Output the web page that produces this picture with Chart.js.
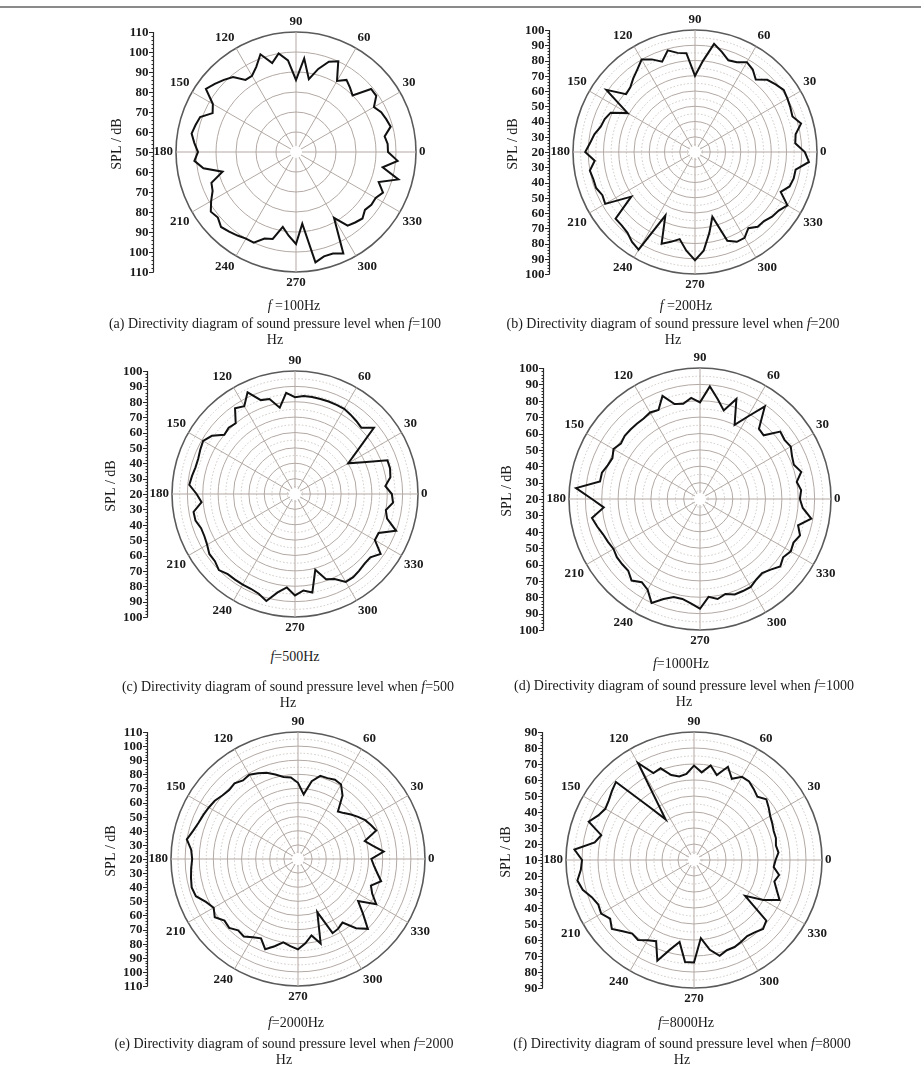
<!DOCTYPE html>
<html>
<head>
<meta charset="utf-8">
<script src="https://cdn.jsdelivr.net/npm/chart.js@4.4.1/dist/chart.umd.min.js"></script>
<style>
html,body{margin:0;padding:0;background:#fff;}
body{width:921px;height:1070px;position:relative;overflow:hidden;font-family:"Liberation Serif","Times New Roman",serif;color:#1a1a1a;}
#frame{position:absolute;left:0;top:6px;width:921px;height:0;border-top:2px solid #8a8a8a;}
canvas.pc{position:absolute;}
.freq{position:absolute;font-size:14px;line-height:16px;transform:translateX(-50%);white-space:nowrap;}
.cap{position:absolute;font-size:14px;line-height:16px;text-align:center;transform:translateX(-50%);white-space:nowrap;}
</style>
</head>
<body>
<div id="frame"></div>

<canvas class="pc" id="pa"></canvas>
<canvas class="pc" id="pb"></canvas>
<canvas class="pc" id="pc"></canvas>
<canvas class="pc" id="pd"></canvas>
<canvas class="pc" id="pe"></canvas>
<canvas class="pc" id="pf"></canvas>

<div class="freq" style="left:294px;top:298px"><i>f</i> =100Hz</div>
<div class="cap" style="left:275px;top:316px">(a) Directivity diagram of sound pressure level when <i>f</i>=100<br>Hz</div>

<div class="freq" style="left:686px;top:298px"><i>f</i> =200Hz</div>
<div class="cap" style="left:673px;top:316px">(b) Directivity diagram of sound pressure level when <i>f</i>=200<br>Hz</div>

<div class="freq" style="left:295px;top:649px"><i>f</i>=500Hz</div>
<div class="cap" style="left:288px;top:679px">(c) Directivity diagram of sound pressure level when <i>f</i>=500<br>Hz</div>

<div class="freq" style="left:681px;top:656px"><i>f</i>=1000Hz</div>
<div class="cap" style="left:684px;top:678px">(d) Directivity diagram of sound pressure level when <i>f</i>=1000<br>Hz</div>

<div class="freq" style="left:296px;top:1015px"><i>f</i>=2000Hz</div>
<div class="cap" style="left:284px;top:1036px">(e) Directivity diagram of sound pressure level when <i>f</i>=2000<br>Hz</div>

<div class="freq" style="left:686px;top:1015px"><i>f</i>=8000Hz</div>
<div class="cap" style="left:682px;top:1036px">(f) Directivity diagram of sound pressure level when <i>f</i>=8000<br>Hz</div>

<script>
// ---- data (angle in degrees, SPL in dB) ----
const angles = [0,5,10,15,20,25,30,35,40,45,50,55,60,65,70,75,80,85,90,95,100,105,110,115,120,125,130,135,140,145,150,155,160,165,170,175,180,185,190,195,200,205,210,215,220,225,230,235,240,245,250,255,260,265,270,275,280,285,290,295,300,305,310,315,320,325,330,335,340,345,350,355];
const angleTickLabels = [0,30,60,90,120,150,180,210,240,270,300,330];

const spl100 = [96,96,95,99,98,97,95,99,99,90,92,94,91,100,98,93,87,97,86,96,100,96,102,97,94,94,99,101,103,105,98,96,101,102,103,101,99,101,97,88,95,96,99,102,101,103,102,101,100,100,96,95,88,92,96,86,106,104,104,106,88,95,96,97,95,96,96,98,94,103,94,101];
const spl200 = [92,86,87,92,88,89,90,91,89,87,82,86,88,85,84,88,92,80,70,85,86,89,83,87,90,86,83,80,79,91,71,81,83,84,87,89,92,86,90,89,89,87,88,71,88,88,89,92,94,66,84,81,78,85,91,85,74,64,82,85,85,81,84,84,86,87,90,82,86,87,87,95];
const spl500 = [83,79,83,84,84,69,60,70,87,81,82,83,84,84,84,84,84,84,83,86,77,84,85,93,86,88,80,81,80,86,89,88,87,87,88,89,84,81,87,87,85,85,86,88,88,90,88,88,88,88,89,92,85,81,86,83,85,71,79,81,86,86,85,84,84,88,80,80,90,82,80,84];
const spl1000 = [81,82,80,84,81,82,84,83,84,75,76,89,78,70,85,76,82,89,79,82,79,80,87,80,81,80,80,80,80,79,81,79,80,82,82,96,86,79,87,85,83,82,81,82,82,82,85,82,84,90,85,82,82,84,87,80,82,80,82,82,82,80,79,81,84,82,84,83,85,82,89,83];
const spl2000 = [72,81,74,69,79,77,75,72,69,66,64,75,81,82,81,81,76,66,74,78,79,82,85,87,89,88,90,89,90,92,93,94,95,97,100,96,95,96,97,98,97,92,89,92,88,89,86,87,84,82,88,84,80,82,84,80,75,82,60,78,77,75,84,90,80,72,84,78,75,81,77,74];
const spl8000 = [61,63,62,63,63,64,65,67,69,66,68,70,70,66,72,65,70,65,69,64,63,65,71,70,80,41,53,79,77,75,74,76,80,70,73,85,80,81,84,82,78,76,77,74,77,73,70,71,68,66,77,68,62,74,74,59,67,72,70,70,69,68,69,71,69,49,60,69,65,62,64,60];

// radial axis ranges (centre value, outer value) and ring steps
const rMin = [50, 20, 20, 20, 20, 10];
const rMax = [110, 100, 100, 100, 110, 90];
const ringStep = [10, 5, 5, 5, 5, 5];

// ---- layout of each panel (page coordinates of polar centre and radius) ----
const panels = [
  {id:'pa', values: spl100, cx:296, cy:152, R:120, gap:23},
  {id:'pb', values: spl200, cx:695, cy:152, R:122, gap:24},
  {id:'pc', values: spl500, cx:295, cy:494, R:123, gap:25},
  {id:'pd', values: spl1000, cx:700, cy:499, R:131, gap:26},
  {id:'pe', values: spl2000, cx:298, cy:859, R:127, gap:24},
  {id:'pf', values: spl8000, cx:694, cy:860, R:128, gap:24}
];

const SERIF = "'Liberation Serif','Times New Roman',serif";

// Chart.js radar runs clockwise; order the categories so angles increase counter-clockwise from the right
const order = angles.map((a, i) => (angles.length - i) % angles.length);
const isMajorAngle = i => angleTickLabels.includes(angles[order[i]]);

const centreDisc = {
  id: 'centreDisc',
  beforeDatasetsDraw(chart) {
    const s = chart.scales.r;
    const ctx = chart.ctx;
    ctx.save();
    ctx.fillStyle = '#fff';
    ctx.beginPath();
    ctx.arc(s.xCenter, s.yCenter, 6, 0, Math.PI * 2);
    ctx.fill();
    ctx.restore();
  }
};

const splAxis = {
  id: 'splAxis',
  afterDraw(chart, args, opts) {
    const s = chart.scales.r;
    const ctx = chart.ctx;
    const ax = Math.round(s.xCenter - s.drawingArea - opts.gap) + 0.5;
    const dMax = s.getDistanceFromCenterForValue(s.max);
    ctx.save();
    ctx.strokeStyle = '#2a2a2a';
    ctx.lineWidth = 1.2;
    ctx.beginPath();
    ctx.moveTo(ax, s.yCenter - dMax);
    ctx.lineTo(ax, s.yCenter + dMax);
    ctx.stroke();
    ctx.lineWidth = 1;
    for (let v = s.min; v <= s.max; v += 2) {
      const d = s.getDistanceFromCenterForValue(v);
      [s.yCenter - d, s.yCenter + d].forEach(y => {
        ctx.beginPath(); ctx.moveTo(ax - 2, Math.round(y) + 0.5); ctx.lineTo(ax, Math.round(y) + 0.5); ctx.stroke();
      });
    }
    ctx.fillStyle = '#1a1a1a';
    ctx.font = 'bold 13px ' + SERIF;
    ctx.textAlign = 'right';
    ctx.textBaseline = 'middle';
    s.ticks.filter(t => (t.value - s.min) % 10 === 0).forEach(t => {
      const d = s.getDistanceFromCenterForValue(t.value);
      const ys = d === 0 ? [s.yCenter] : [s.yCenter - d, s.yCenter + d];
      ys.forEach(y => {
        ctx.beginPath(); ctx.moveTo(ax - 4.5, Math.round(y) + 0.5); ctx.lineTo(ax, Math.round(y) + 0.5); ctx.stroke();
        ctx.fillText(String(t.value), ax - 5, y + 0.5);
      });
    });
    ctx.translate(ax - 36, s.yCenter - 8);
    ctx.rotate(-Math.PI / 2);
    ctx.font = '14px ' + SERIF;
    ctx.textAlign = 'center';
    ctx.fillText('SPL / dB', 0, 0);
    ctx.restore();
  }
};

panels.forEach((p, k) => {
  const W = 215 + p.R + 45;
  const H = 2 * p.R + 60;
  const cvs = document.getElementById(p.id);
  cvs.width = W; cvs.height = H;
  cvs.style.left = (p.cx - 215) + 'px';
  cvs.style.top = (p.cy - p.R - 30) + 'px';
  cvs.style.width = W + 'px';
  cvs.style.height = H + 'px';
  const tcx = 215, tcy = p.R + 30;
  const S = 2 * p.R + 45;
  const pad = {left: tcx - 6.5 - S / 2, top: tcy - S / 2};
  pad.right = W - pad.left - S;
  pad.bottom = H - pad.top - S;
  const min = rMin[k], max = rMax[k];
  const chart = new Chart(cvs, {
    type: 'radar',
    data: {
      labels: order.map(i => String(angles[i])),
      datasets: [{
        data: order.map(i => p.values[i]),
        borderColor: '#111',
        borderWidth: 2,
        fill: false,
        pointRadius: 0,
        tension: 0,
        borderJoinStyle: 'miter'
      }]
    },
    options: {
      responsive: false,
      animation: false,
      devicePixelRatio: 1,
      layout: {padding: pad},
      plugins: {
        legend: {display: false},
        tooltip: {enabled: false},
        splAxis: {gap: p.gap}
      },
      scales: {
        r: {
          min: min,
          max: max,
          startAngle: 90,
          ticks: {display: false, stepSize: ringStep[k]},
          grid: {
            circular: true,
            color: c => c.tick.value === max ? '#5a5a5a' : ((c.tick.value - min) % 10 === 0 ? '#b3a9a4' : '#cdc7c3'),
            lineWidth: c => c.tick.value === max ? 1.6 : 1
          },
          border: {
            dash: c => ((c.tick.value - min) % 10 === 0 ? [] : [1.5, 2])
          },
          angleLines: {
            color: '#b3a9a4',
            lineWidth: c => (isMajorAngle(c.index) ? 1 : 0)
          },
          pointLabels: {
            display: true,
            padding: 3,
            color: '#1a1a1a',
            font: {family: SERIF, size: 13, weight: 'bold'},
            callback: (label, i) => (isMajorAngle(i) ? label : '')
          }
        }
      }
    },
    plugins: [centreDisc, splAxis]
  });
  for (let it = 0; it < 6; it++) {
    const s = chart.scales.r;
    const dR = p.R - s.drawingArea, dx = tcx - s.xCenter, dy = tcy - s.yCenter;
    if (Math.abs(dR) < 0.25 && Math.abs(dx) < 0.5 && Math.abs(dy) < 0.5) break;
    pad.left += dx - dR; pad.right += -dx - dR;
    pad.top += dy - dR; pad.bottom += -dy - dR;
    chart.update('none');
  }
});
</script>
</body>
</html>
